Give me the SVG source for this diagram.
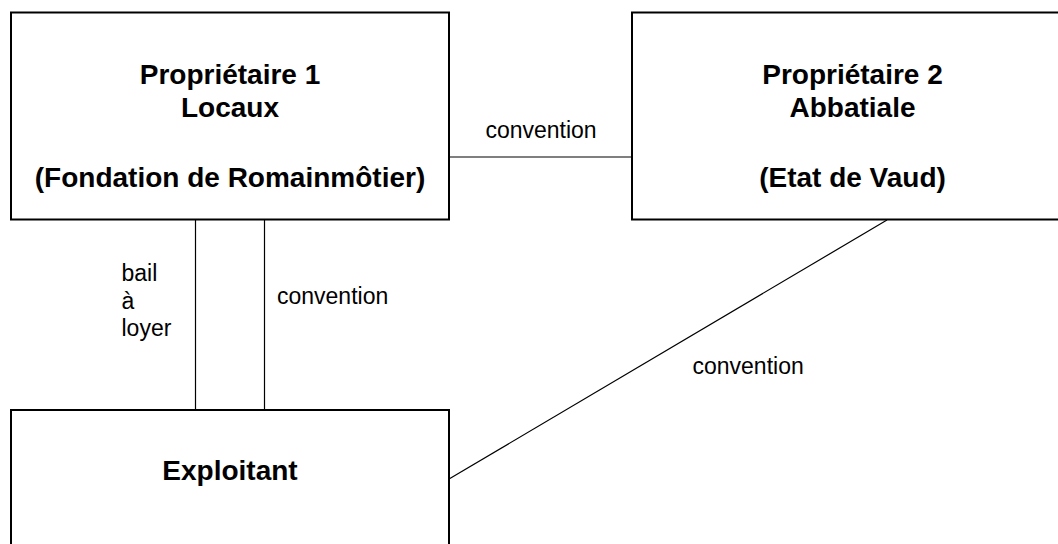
<svg xmlns="http://www.w3.org/2000/svg" width="1058" height="544" viewBox="0 0 1058 544">
  <style>
    .box { fill: #ffffff; stroke: #000000; stroke-width: 2; }
    .conn { fill: none; stroke: #000000; stroke-width: 1.2; }
    .title { font-family: "Liberation Sans", Arial, sans-serif; font-weight: bold; font-size: 28px; fill: #000000; text-anchor: middle; }
    .label { font-family: "Liberation Sans", Arial, sans-serif; font-size: 23px; fill: #000000; }
  </style>
  <rect x="0" y="0" width="1058" height="544" fill="#ffffff"/>
  <g id="connectors">
    <line class="conn" x1="449" y1="157" x2="632" y2="157"/>
    <line class="conn" x1="195.5" y1="219" x2="195.5" y2="410"/>
    <line class="conn" x1="264.5" y1="219" x2="264.5" y2="410"/>
    <line class="conn" x1="449" y1="479" x2="887" y2="220"/>
    <text class="label" x="541" y="138" text-anchor="middle">convention</text>
    <text class="label" x="121.5" y="281">bail</text>
    <text class="label" x="121.5" y="308.5">à</text>
    <text class="label" x="121.5" y="336">loyer</text>
    <text class="label" x="277" y="304">convention</text>
    <text class="label" x="692.5" y="373.5">convention</text>
  </g>
  <g id="node-proprietaire1">
    <rect class="box" x="11" y="12.5" width="438" height="207"/>
    <text class="title" x="230" y="84">Propriétaire 1</text>
    <text class="title" x="230" y="117">Locaux</text>
    <text class="title" x="230" y="187">(Fondation de Romainmôtier)</text>
  </g>
  <g id="node-proprietaire2">
    <rect class="box" x="632" y="12.5" width="441" height="207"/>
    <text class="title" x="852.5" y="84">Propriétaire 2</text>
    <text class="title" x="852.5" y="117">Abbatiale</text>
    <text class="title" x="852.5" y="187">(Etat de Vaud)</text>
  </g>
  <g id="node-exploitant">
    <rect class="box" x="11" y="410" width="438" height="150"/>
    <text class="title" x="230" y="480">Exploitant</text>
  </g>
</svg>
